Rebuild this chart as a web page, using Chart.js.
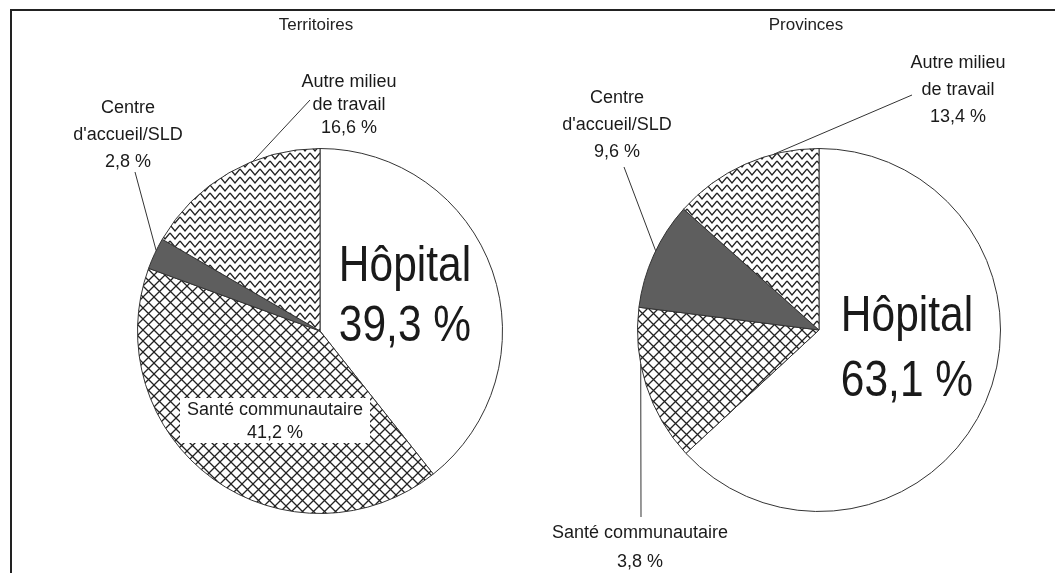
<!DOCTYPE html>
<html lang="fr">
<head>
<meta charset="UTF-8">
<title>Territoires / Provinces</title>
<script src="https://cdn.jsdelivr.net/npm/chart.js"></script>
<style>
  html, body { margin: 0; padding: 0; background: #fff; }
  #page { position: relative; width: 1055px; height: 573px; overflow: hidden; }
  #frame { position: absolute; left: 10px; top: 9px; width: 1045px; height: 564px;
           border-top: 2px solid #222; border-left: 2px solid #222; box-sizing: border-box; }
  .half { position: absolute; top: 0; width: 527px; height: 573px; }
</style>
</head>
<body>
<div id="page">
  <div id="frame"></div>
  <div class="half" style="left:0"><canvas id="terr" width="527" height="573"></canvas></div>
  <div class="half" style="left:527px"><canvas id="prov" width="527" height="573"></canvas></div>
</div>
<script>
// données
const titles = ['Territoires', 'Provinces'];
const categories = ['Hôpital', 'Santé communautaire', "Centre d'accueil/SLD", 'Autre milieu de travail'];
const categoryLines = [['Hôpital'], ['Santé communautaire'], ['Centre', "d'accueil/SLD"], ['Autre milieu', 'de travail']];
const territoiresValues = [39.3, 41.2, 2.8, 16.6];
// la tranche "Santé communautaire" est dessinée bien plus grande que le 3,8 % imprimé
const provincesValues = [63.1, 13.9, 9.6, 13.4];
const territoiresLabels = ['39,3 %', '41,2 %', '2,8 %', '16,6 %'];
const provincesLabels = ['63,1 %', '3,8 %', '9,6 %', '13,4 %'];

const FONT = '"Liberation Sans", Arial, sans-serif';

function crossHatch() {
    const c = document.createElement('canvas');
    c.width = 11; c.height = 11;
    const g = c.getContext('2d');
    g.fillStyle = '#fff'; g.fillRect(0, 0, 11, 11);
    g.strokeStyle = '#222'; g.lineWidth = 1.3;
    g.beginPath();
    g.moveTo(-1, -1); g.lineTo(12, 12);
    g.moveTo(12, -1); g.lineTo(-1, 12);
    g.stroke();
    return g.createPattern(c, 'repeat');
}

function zigzag() {
    const c = document.createElement('canvas');
    c.width = 10; c.height = 8;
    const g = c.getContext('2d');
    g.fillStyle = '#fff'; g.fillRect(0, 0, 10, 8);
    g.strokeStyle = '#222'; g.lineWidth = 1.3;
    g.beginPath();
    g.moveTo(0, 1); g.lineTo(5, 7); g.lineTo(10, 1);
    g.stroke();
    return g.createPattern(c, 'repeat');
}

// label placement per slice (canvas coordinates)
const terrLayout = {
    title: { x: 316, y: 25 },
    slices: [
        { big: true, x: 405, y: 267, gap: 60 },
        { x: 275, y: 410, gap: 23, box: [180, 398, 190, 45] },
        { x: 128, y: 108, gap: 27, from: [135, 172], at: 0.6 },
        { x: 349, y: 82, gap: 23, from: [310, 100], at: 0.64 }
    ]
};
const provLayout = {
    title: { x: 279, y: 25 },
    slices: [
        { big: true, x: 380, y: 317, gap: 65 },
        { x: 113, y: 533, gap: 29, from: [114, 517], at: 0.64 },
        { x: 90, y: 98, gap: 27, from: [97, 167], at: 0.54 },
        { x: 431, y: 63, gap: 27, from: [385, 95], at: 0.7 }
    ]
};

const labelPlugin = {
    id: 'pieLabels',
    afterDraw(chart, args, opts) {
        const ctx = chart.ctx;
        const arcs = chart.getDatasetMeta(0).data;
        const lay = opts.layout;
        ctx.save();
        ctx.fillStyle = '#222';
        ctx.textAlign = 'center';
        ctx.textBaseline = 'middle';
        ctx.font = '17px ' + FONT;
        ctx.fillText(opts.title, lay.title.x, lay.title.y);

        lay.slices.forEach((s, i) => {
            const lines = categoryLines[i].concat([opts.labels[i]]);
            if (s.box) {
                ctx.fillStyle = '#fff';
                ctx.fillRect(s.box[0], s.box[1], s.box[2], s.box[3]);
            }
            if (s.from) {
                const a = arcs[i];
                const ang = a.startAngle + (a.endAngle - a.startAngle) * s.at;
                ctx.strokeStyle = '#333';
                ctx.lineWidth = 1;
                ctx.beginPath();
                ctx.moveTo(s.from[0], s.from[1]);
                ctx.lineTo(a.x + a.outerRadius * Math.cos(ang), a.y + a.outerRadius * Math.sin(ang));
                ctx.stroke();
            }
            ctx.fillStyle = '#1a1a1a';
            if (s.big) {
                // condensed look of the big label
                ctx.font = '50px ' + FONT;
                lines.forEach((t, k) => {
                    ctx.save();
                    ctx.translate(s.x, s.y + k * s.gap);
                    ctx.scale(0.85, 1);
                    ctx.fillText(t, 0, 0);
                    ctx.restore();
                });
            } else {
                ctx.font = '18px ' + FONT;
                lines.forEach((t, k) => ctx.fillText(t, s.x, s.y + k * s.gap));
            }
        });
        ctx.restore();
    }
};

function makePie(id, values, title, labels, layout, pad) {
    return new Chart(document.getElementById(id), {
        type: 'pie',
        data: {
            labels: categories,
            datasets: [{
                data: values,
                backgroundColor: ['#ffffff', crossHatch(), '#5e5e5e', zigzag()],
                borderColor: '#333',
                borderWidth: 1,
                hoverOffset: 0,
                offset: 0
            }]
        },
        options: {
            responsive: false,
            animation: false,
            layout: { padding: pad },
            plugins: {
                legend: { display: false },
                tooltip: { enabled: false },
                pieLabels: { title: title, labels: labels, layout: layout }
            }
        },
        plugins: [labelPlugin]
    });
}

makePie('terr', territoiresValues, titles[0], territoiresLabels, terrLayout,
        { left: 137, right: 24, top: 148, bottom: 59 });
makePie('prov', provincesValues, titles[1], provincesLabels, provLayout,
        { left: 110, right: 53, top: 148, bottom: 61 });
</script>
</body>
</html>
